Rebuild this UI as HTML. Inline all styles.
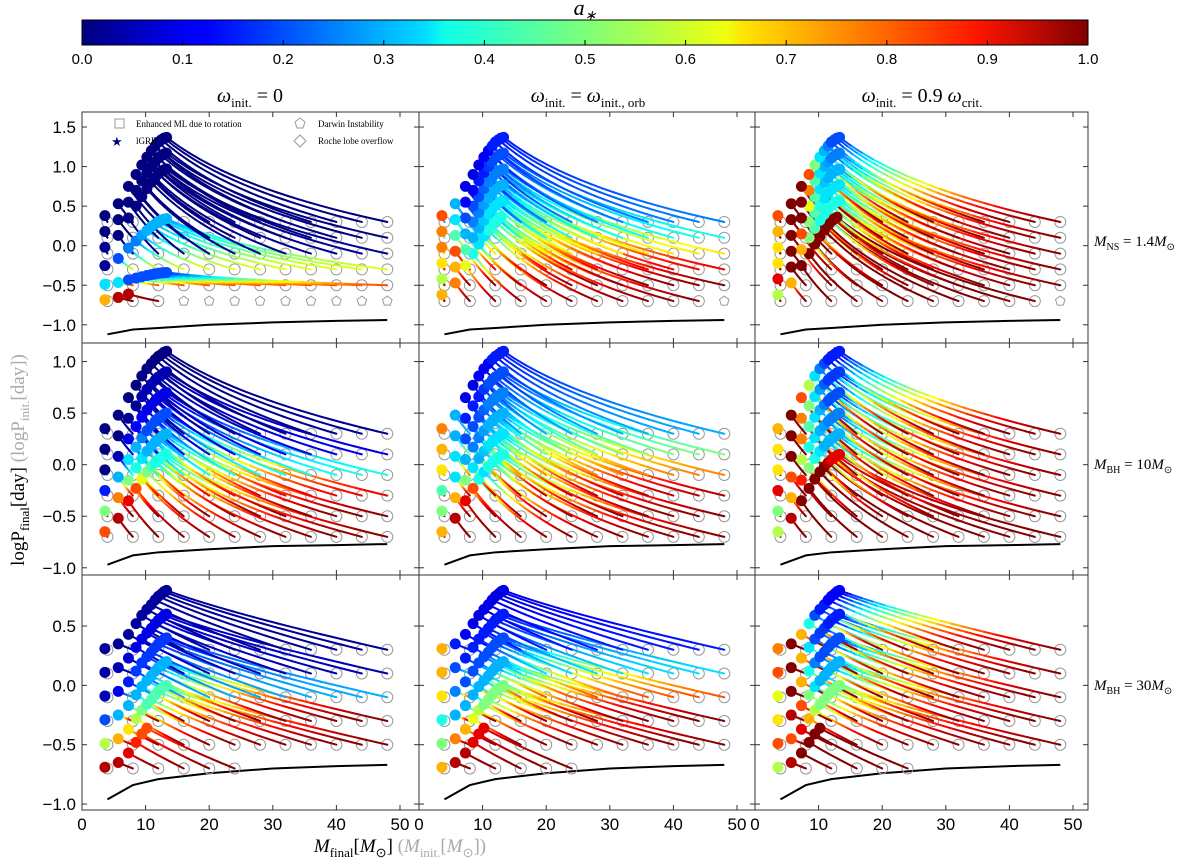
<!DOCTYPE html>
<html><head><meta charset="utf-8"><style>
body{margin:0;background:#fff}
svg{display:block}
text{font-family:"Liberation Sans",sans-serif}
.serif{font-family:"Liberation Serif",serif}
</style></head><body>
<svg id="fig" width="1200" height="862" xmlns="http://www.w3.org/2000/svg">
<defs>
<linearGradient id="jetgrad" x1="0" x2="1" y1="0" y2="0">
<stop offset="0" stop-color="#00007f"/><stop offset="0.11" stop-color="#0000ff"/><stop offset="0.125" stop-color="#0000ff"/>
<stop offset="0.34" stop-color="#00dcff"/><stop offset="0.36" stop-color="#0dffea"/><stop offset="0.5" stop-color="#7dff7a"/>
<stop offset="0.64" stop-color="#f0ff0d"/><stop offset="0.66" stop-color="#ffe200"/><stop offset="0.89" stop-color="#ff1500"/><stop offset="1" stop-color="#7f0000"/>
</linearGradient>
</defs>
<g>
<rect x="82" y="20" width="1006" height="25" fill="url(#jetgrad)" stroke="#000" stroke-width="1"/>
<text x="585" y="15" class="serif" font-size="22" font-style="italic" text-anchor="middle">a<tspan font-size="14" dy="5">∗</tspan></text>
<g id="cbticks"></g>
</g>
<text x="250" y="102" class="serif" font-size="20" text-anchor="middle"><tspan font-style="italic">ω</tspan><tspan font-size="13" dy="5">init.</tspan><tspan dy="-5"> = 0</tspan></text>
<text x="588" y="102" class="serif" font-size="20" text-anchor="middle"><tspan font-style="italic">ω</tspan><tspan font-size="13" dy="5">init.</tspan><tspan dy="-5"> = </tspan><tspan font-style="italic">ω</tspan><tspan font-size="13" dy="5">init., orb</tspan></text>
<text x="922" y="102" class="serif" font-size="20" text-anchor="middle"><tspan font-style="italic">ω</tspan><tspan font-size="13" dy="5">init.</tspan><tspan dy="-5"> = 0.9 </tspan><tspan font-style="italic">ω</tspan><tspan font-size="13" dy="5">crit.</tspan></text>
<text x="1094" y="246" class="serif" font-size="15"><tspan font-style="italic">M</tspan><tspan font-size="10" dy="4">NS</tspan><tspan dy="-4"> = 1.4</tspan><tspan font-style="italic">M</tspan><tspan font-size="10" dy="4">⊙</tspan></text>
<text x="1094" y="469" class="serif" font-size="15"><tspan font-style="italic">M</tspan><tspan font-size="10" dy="4">BH</tspan><tspan dy="-4"> = 10</tspan><tspan font-style="italic">M</tspan><tspan font-size="10" dy="4">⊙</tspan></text>
<text x="1094" y="690" class="serif" font-size="15"><tspan font-style="italic">M</tspan><tspan font-size="10" dy="4">BH</tspan><tspan dy="-4"> = 30</tspan><tspan font-style="italic">M</tspan><tspan font-size="10" dy="4">⊙</tspan></text>
<text transform="translate(24,460) rotate(-90)" class="serif" font-size="19" text-anchor="middle">logP<tspan font-size="13" dy="5">final</tspan><tspan dy="-5">[day]  </tspan><tspan fill="#aaa">(logP<tspan font-size="13" dy="5">init.</tspan><tspan dy="-5">[day])</tspan></tspan></text>
<text x="400" y="852" class="serif" font-size="19" text-anchor="middle"><tspan font-style="italic">M</tspan><tspan font-size="13" dy="5">final</tspan><tspan dy="-5">[</tspan><tspan font-style="italic">M</tspan><tspan font-size="13" dy="5">⊙</tspan><tspan dy="-5">]   </tspan><tspan fill="#aaa">(<tspan font-style="italic">M</tspan><tspan font-size="13" dy="5">init.</tspan><tspan dy="-5">[</tspan><tspan font-style="italic">M</tspan><tspan font-size="13" dy="5">⊙</tspan><tspan dy="-5">])</tspan></tspan></text>
<g id="panels"></g>
<g font-size="9" class="serif">
<rect x="115" y="119" width="9" height="9" fill="none" stroke="#999"/>
<text x="136" y="127" class="serif">Enhanced ML due to rotation</text>
<text x="111" y="146" fill="#00007f" font-size="13">★</text>
<text x="136" y="144" class="serif">lGRB</text>
<polygon points="300,118 305,122 303,128 297,128 295,122" fill="none" stroke="#999"/>
<text x="318" y="127" class="serif">Darwin Instability</text>
<polygon points="300,135 306,141 300,147 294,141" fill="none" stroke="#999"/>
<text x="318" y="144" class="serif">Roche lobe overflow</text>
</g>
</svg>
<script>
const cbTicks=[0,0.1,0.2,0.3,0.4,0.5,0.6,0.7,0.8,0.9,1.0];
const massInit=[4,8,12,16,20,24,28,32,36,40,44,48];
const logPInit=[0.3,0.1,-0.1,-0.3,-0.5,-0.7];
const massFinal=[3.6,5.7,7.3,8.5,9.4,10.2,10.9,11.5,12.0,12.5,12.9,13.3];
const dPNS=[0.08,0.23,0.45,0.6,0.72,0.82,0.9,0.96,1.01,1.04,1.06,1.07];
const dPBH10=[0.05,0.18,0.35,0.47,0.56,0.63,0.68,0.72,0.75,0.77,0.79,0.8];
const dPBH30=[0.01,0.05,0.13,0.22,0.29,0.34,0.38,0.42,0.45,0.47,0.49,0.5];
// per-row scaling of period change for the non-rotating NS panel (tidal locking at short periods)
const dPScaleTL=[1,1,1,0.6,0.15,0.2];
const xTicks=[0,10,20,30,40,50];
const yTicksNS=[1.5,1.0,0.5,0.0,-0.5,-1.0];
const yTicksBH10=[1.0,0.5,0.0,-0.5,-1.0];
const yTicksBH30=[0.5,0.0,-0.5,-1.0];
const rocheMass=[4,8,12,20,30,40,48];
const rocheNS=[-1.12,-1.06,-1.04,-1.0,-0.97,-0.95,-0.94];
const rocheBH10=[-0.97,-0.88,-0.85,-0.82,-0.79,-0.78,-0.77];
const rocheBH30=[-0.96,-0.84,-0.79,-0.74,-0.7,-0.68,-0.67];
const N=null, S=-1; // N: Darwin instability marker, S: no model
// final spin per row (logPInit order) per initial mass
const sf00=[[0,0,0,0,0,0,0,0,0,0,0,0],[0,0,0,0,0,0,0,0,0,0,0,0],[0.02,0,0,0,0,0,0,0,0,0,0,0],[0.02,0.2,0.25,0.25,0.28,0.3,0.3,0.3,0.3,0.3,0.3,0.3],[0.35,0.35,0.2,0.2,0.2,0.2,0.2,0.2,0.2,0.2,0.2,0.2],[0.7,0.95,0.95,N,N,N,N,N,N,N,N,N]];
const si00=[0,0,0.02,0.6,0.8,1];
const sf01=[[0.8,0.3,0.1,0.1,0.1,0.12,0.12,0.15,0.15,0.15,0.15,0.15],[0.75,0.35,0.12,0.12,0.15,0.15,0.18,0.2,0.2,0.2,0.2,0.2],[0.75,0.45,0.2,0.2,0.2,0.22,0.25,0.25,0.25,0.25,0.25,0.25],[0.65,0.8,0.3,0.25,0.25,0.28,0.3,0.3,0.3,0.3,0.3,0.3],[0.55,0.7,0.45,0.3,0.3,0.32,0.35,0.35,0.35,0.35,0.35,0.35],[0.7,0.75,0.6,0.4,0.35,0.35,0.4,0.4,0.4,0.4,0.4,N]];
const si01=[0.25,0.4,0.65,0.9,1,1];
const sf02=[[0.8,1,1,0.8,0.5,0.35,0.3,0.25,0.2,0.2,0.2,0.2],[0.7,1,1,0.75,0.45,0.35,0.3,0.28,0.25,0.25,0.25,0.25],[0.65,1,1,0.6,0.45,0.35,0.32,0.3,0.3,0.3,0.3,0.3],[0.65,1,0.8,0.5,0.45,0.4,0.35,0.35,0.35,0.35,0.35,0.35],[0.9,1,0.7,0.5,0.45,0.4,0.4,0.4,0.4,0.4,0.4,0.4],[0.55,0.7,1,1,1,1,1,1,1,1,1,N]];
const si02=[1,1,1,1,1,1];
const sf10=[[0,0,0,0,0,0,0,0,0,0,0,0],[0,0,0.02,0.02,0.05,0.05,0.05,0.05,0.05,0.05,0.05,0.05],[0,0.05,0.1,0.12,0.12,0.1,0.1,0.1,0.1,0.1,0.1,0.1],[0.15,0.3,0.35,0.3,0.25,0.2,0.2,0.2,0.2,0.2,0.2,0.2],[0.5,0.75,0.5,0.4,0.35,0.3,0.3,0.3,0.3,0.3,0.3,0.3],[0.8,0.95,0.9,0.8,0.6,0.5,0.45,0.4,0.4,0.4,0.4,0.4]];
const si10=[0.02,0.1,0.4,0.9,1,1];
const sf11=[[0.75,0.3,0.1,0.1,0.12,0.12,0.12,0.15,0.15,0.15,0.15,0.15],[0.7,0.3,0.15,0.15,0.15,0.18,0.2,0.2,0.2,0.2,0.2,0.2],[0.65,0.35,0.2,0.2,0.2,0.22,0.25,0.25,0.25,0.25,0.25,0.25],[0.45,0.35,0.3,0.25,0.25,0.28,0.3,0.3,0.3,0.3,0.3,0.3],[0.5,0.7,0.5,0.35,0.3,0.32,0.35,0.35,0.35,0.35,0.35,0.35],[0.7,0.95,0.9,0.8,0.4,0.35,0.4,0.4,0.4,0.4,0.4,0.4]];
const si11=[0.3,0.5,0.75,0.95,1,1];
const sf12=[[0.7,1,0.8,0.55,0.35,0.25,0.2,0.15,0.15,0.15,0.15,0.15],[0.65,1,0.75,0.5,0.35,0.28,0.22,0.18,0.18,0.18,0.18,0.18],[0.65,1,0.75,0.45,0.35,0.3,0.25,0.2,0.2,0.2,0.2,0.2],[0.9,0.8,0.55,0.4,0.35,0.3,0.28,0.25,0.25,0.25,0.25,0.25],[0.5,0.7,0.85,0.5,0.4,0.35,0.3,0.3,0.3,0.3,0.3,0.3],[0.55,0.95,1,1,1,1,1,0.95,0.9,0.9,0.9,0.9]];
const si12=[1,1,1,1,1,1];
const sf20=[[0.02,0.02,0.02,0.03,0.03,0.03,0.03,0.03,0.03,0.03,0.03,0.03],[0.03,0.05,0.08,0.1,0.1,0.1,0.1,0.1,0.1,0.1,0.1,0.1],[0.05,0.1,0.15,0.18,0.18,0.18,0.18,0.18,0.18,0.18,0.18,0.18],[0.2,0.3,0.3,0.3,0.3,0.3,0.3,0.3,0.3,0.3,0.3,0.3],[0.55,0.7,0.65,0.55,0.5,0.45,0.45,0.45,0.45,0.45,0.45,0.45],[0.95,0.95,0.9,0.85,0.8,0.8,S,S,S,S,S,S]];
const si20=[0.02,0.05,0.3,1,1,1];
const sf21=[[0.7,0.15,0.12,0.1,0.1,0.1,0.1,0.1,0.1,0.1,0.1,0.1],[0.7,0.2,0.15,0.15,0.15,0.15,0.15,0.15,0.15,0.15,0.15,0.15],[0.65,0.25,0.2,0.2,0.2,0.2,0.2,0.2,0.2,0.2,0.2,0.2],[0.4,0.3,0.3,0.3,0.3,0.3,0.3,0.3,0.3,0.3,0.3,0.3],[0.5,0.75,0.7,0.6,0.55,0.5,0.5,0.5,0.5,0.5,0.5,0.5],[0.7,0.95,0.95,0.9,0.9,0.9,S,S,S,S,S,S]];
const si21=[0.15,0.35,0.8,1,1,1];
const sf22=[[0.75,1,0.7,0.4,0.2,0.15,0.15,0.12,0.12,0.12,0.12,0.12],[0.8,1,0.7,0.35,0.2,0.18,0.18,0.15,0.15,0.15,0.15,0.15],[0.6,1,0.7,0.4,0.25,0.2,0.2,0.2,0.2,0.2,0.2,0.2],[0.65,0.95,0.8,0.5,0.35,0.3,0.3,0.3,0.3,0.3,0.3,0.3],[0.8,0.8,0.9,0.7,0.55,0.5,0.5,0.5,0.5,0.5,0.5,0.5],[0.55,0.95,1,1,1,1,S,S,S,S,S,S]];
const si22=[1,1,1,1,1,1];

function jet(v){v=Math.max(0,Math.min(1,v));
 const r=Math.max(0,Math.min(1,1.5-Math.abs(4*v-3))),g=Math.max(0,Math.min(1,1.5-Math.abs(4*v-2))),b=Math.max(0,Math.min(1,1.5-Math.abs(4*v-1)));
 return `rgb(${Math.round(r*255)},${Math.round(g*255)},${Math.round(b*255)})`;}
const NS='http://www.w3.org/2000/svg';
function mk(tag,attrs,parent){const e=document.createElementNS(NS,tag);for(const k in attrs)e.setAttribute(k,attrs[k]);parent.appendChild(e);return e;}

const cb=document.getElementById('cbticks');
cbTicks.forEach(v=>{const x=82+v*1006;
 const t=mk('text',{x:x,y:64,'font-size':15,'text-anchor':'middle'},cb);t.textContent=v.toFixed(1);
 
 
 const l=mk('line',{x1:x,x2:x,y1:45,y2:40,stroke:'#000'},cb);
 
 });

const cols=[{x0:82,w:337},{x0:419,w:336},{x0:755,w:333}];
const rows=[{top:112,bot:343,ymax:1.69,ymin:-1.23,dP:dPNS,ticks:yTicksNS,roche:rocheNS,w:1,name:'ns'},
            {top:343,bot:575,ymax:1.18,ymin:-1.07,dP:dPBH10,ticks:yTicksBH10,roche:rocheBH10,w:0.85,name:'bh10'},
            {top:575,bot:810,ymax:0.93,ymin:-1.05,dP:dPBH30,ticks:yTicksBH30,roche:rocheBH30,w:0.35,name:'bh30'}];
const SF=[[sf00,sf01,sf02],[sf10,sf11,sf12],[sf20,sf21,sf22]];
const SI=[[si00,si01,si02],[si10,si11,si12],[si20,si21,si22]];
const root=document.getElementById('panels');
const pxPerM=6.36;
rows.forEach((R,ri)=>cols.forEach((C,ci)=>{
 const g=mk('g',{},root);
 
 
 const X=m=>C.x0+m*pxPerM;
 const Y=p=>R.top+(R.ymax-p)/(R.ymax-R.ymin)*(R.bot-R.top);
 const fr=mk('rect',{x:C.x0,y:R.top,width:C.w,height:R.bot-R.top,fill:'none',stroke:'#333','stroke-width':1},g);
 
 
 xTicks.forEach(v=>{const x=X(v);
  mk('line',{x1:x,x2:x,y1:R.bot,y2:R.bot-5,stroke:'#333'},g);mk('line',{x1:x,x2:x,y1:R.top,y2:R.top+5,stroke:'#333'},g);
  if(ri===2){const t=mk('text',{x:x,y:R.bot+20,'font-size':17,'text-anchor':'middle'},g);t.textContent=v;
   
   }});
 R.ticks.forEach(v=>{const y=Y(v);
  mk('line',{x1:C.x0,x2:C.x0+5,y1:y,y2:y,stroke:'#333'},g);mk('line',{x1:C.x0+C.w,x2:C.x0+C.w-5,y1:y,y2:y,stroke:'#333'},g);
  if(ci===0){const t=mk('text',{x:C.x0-6,y:y+6,'font-size':17,'text-anchor':'end'},g);t.textContent=(v<0?'\u2212':'')+Math.abs(v).toFixed(1);
   
   }});
 const rl=mk('polyline',{points:rocheMass.map((m,i)=>X(m)+','+Y(R.roche[i])).join(' '),fill:'none',stroke:'#000','stroke-width':2},g);
 
 
 const sf=SF[ri][ci],si=SI[ri][ci];
 const markers=mk('g',{},g);const tracks=mk('g',{},g);const dots=mk('g',{},g);
 for(let pi=logPInit.length-1;pi>=0;pi--){const p0=logPInit[pi];
 massInit.forEach((mi,k)=>{
  const s1=sf[pi][k];
  if(s1===S) return;
  const cx=X(mi),cy=Y(p0);
  if(s1===null){const pts=[0,1,2,3,4].map(j=>{const a=-Math.PI/2+j*2*Math.PI/5;return (cx+5*Math.cos(a))+','+(cy+5*Math.sin(a));}).join(' ');
   const pg=mk('polygon',{points:pts,fill:'none',stroke:'#999'},markers);
   
   return;}
  const c=mk('circle',{cx:cx,cy:cy,r:5.5,fill:'none',stroke:'#999','stroke-width':1},markers);
  
  
  const sc=(ri===0&&ci===0)?dPScaleTL[pi]:1;
  const mf=massFinal[k],pf=p0+R.dP[k]*sc,s0=si[pi];
  const tg=mk('g',{},tracks);
  
  
  const n=20;let prev=null;
  for(let j=0;j<=n;j++){const t=j/n;const m=mi+(mf-mi)*t;
   const lf=Math.log(mi/m)/Math.log(mi/mf);
   const f=R.w*lf+(1-R.w)*t;const p=p0+(pf-p0)*f;
   const pt=[X(m),Y(p)];
   if(prev){mk('line',{x1:prev[0],y1:prev[1],x2:pt[0],y2:pt[1],stroke:jet(s0+(s1-s0)*Math.pow(t,1.6)),'stroke-width':2,'stroke-linecap':'round'},tg);}
   prev=pt;}
  const d=mk('circle',{cx:X(mf),cy:Y(pf),r:5.5,fill:jet(s1)},dots);
  
  
 });}
}));
</script>
</body></html>
